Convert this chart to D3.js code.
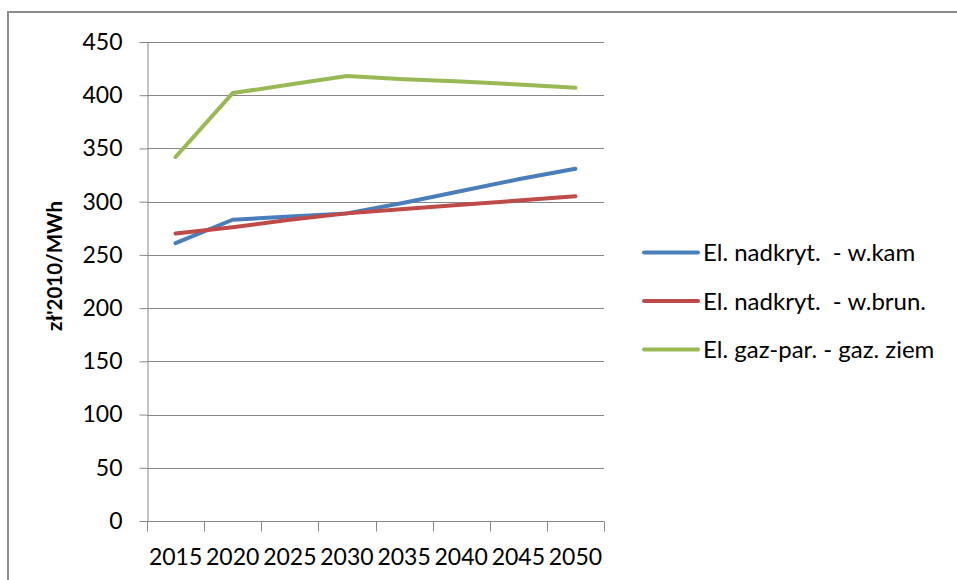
<!DOCTYPE html>
<html>
<head>
<meta charset="utf-8">
<script src="https://cdn.jsdelivr.net/npm/d3@7"></script>
<style>
  html, body { margin: 0; padding: 0; background: #fff; }
  svg { display: block; }
  text { font-family: Lato, "Open Sans", sans-serif; fill: #000; }
</style>
</head>
<body>
<svg id="chart" width="957" height="580"></svg>
<script>
// Years on the category axis
const years = ["2015", "2020", "2025", "2030", "2035", "2040", "2045", "2050"];

// Cost of electricity generation, zł'2010/MWh
const kamienny = [261, 283, 286, 289, 299, 310, 321, 331];
const brunatny = [270, 276, 283, 289, 293, 297, 301, 305];
const gazowy   = [342, 402, 410, 418, 415, 413, 410, 407];

const seriesNames = ["El. nadkryt.  - w.kam", "El. nadkryt.  - w.brun.", "El. gaz-par. - gaz. ziem"];
const seriesColors = ["#4a7ebb", "#be4b48", "#98b954"];
const yTicks = [0, 50, 100, 150, 200, 250, 300, 350, 400, 450];
const yTitle = "zł'2010/MWh";

const series = [kamienny, brunatny, gazowy];

const svg = d3.select("#chart");
const plot = { left: 147, right: 604, top: 42, bottom: 521 };

// Chart frame
svg.append("rect")
  .attr("x", 8).attr("y", 12)
  .attr("width", 980).attr("height", 600)
  .attr("fill", "none")
  .attr("stroke", "#8c8c8c")
  .attr("stroke-width", 2);

const x = d3.scaleBand().domain(years).range([plot.left, plot.right]).padding(0);
const y = d3.scaleLinear().domain([0, 450]).range([plot.bottom, plot.top]);

// Horizontal gridlines
svg.append("g")
  .selectAll("line")
  .data(yTicks.filter(d => d > 0))
  .join("line")
  .attr("x1", plot.left).attr("x2", plot.right)
  .attr("y1", d => Math.round(y(d)) + 0.5).attr("y2", d => Math.round(y(d)) + 0.5)
  .attr("stroke", "#878787").attr("stroke-width", 1);

// Y axis
const yAxis = svg.append("g")
  .attr("transform", `translate(${plot.left + 0.5},0)`)
  .call(d3.axisLeft(y).tickValues(yTicks).tickSize(8).tickPadding(17).tickSizeOuter(0));
yAxis.select(".domain").attr("stroke", "#878787");
yAxis.selectAll(".tick line").attr("stroke", "#878787");
yAxis.selectAll(".tick text")
  .style("font-family", "Lato, sans-serif")
  .style("font-size", "23px")
  .attr("fill", "#000");

// X axis with tick marks on category boundaries
const xAxisG = svg.append("g").attr("transform", `translate(0,${plot.bottom + 0.5})`);
xAxisG.append("line")
  .attr("x1", plot.left).attr("x2", plot.right)
  .attr("stroke", "#878787");
const boundaries = years.map(d => x(d)).concat([x(years[years.length - 1]) + x.bandwidth()]);
xAxisG.selectAll("line.tick")
  .data(boundaries)
  .join("line")
  .attr("class", "tick")
  .attr("x1", d => Math.round(d) + 0.5).attr("x2", d => Math.round(d) + 0.5)
  .attr("y1", 0).attr("y2", 10)
  .attr("stroke", "#878787");
xAxisG.selectAll("text")
  .data(years)
  .join("text")
  .attr("x", d => x(d) + x.bandwidth() / 2)
  .attr("y", 43)
  .attr("text-anchor", "middle")
  .style("font-size", "23px")
  .text(d => d);

// Y axis title
svg.append("text")
  .attr("transform", `translate(62,266) rotate(-90)`)
  .attr("text-anchor", "middle")
  .style("font-size", "20.5px")
  .style("font-weight", "bold")
  .text(yTitle);

// Series lines
const line = d3.line()
  .x((d, i) => x(years[i]) + x.bandwidth() / 2)
  .y(d => y(d));

svg.append("g")
  .selectAll("path")
  .data(series)
  .join("path")
  .attr("d", d => line(d))
  .attr("fill", "none")
  .attr("stroke", (d, i) => seriesColors[i])
  .attr("stroke-width", 4)
  .attr("stroke-linejoin", "round")
  .attr("stroke-linecap", "round");

// Legend
const legend = svg.append("g");
const legendRows = legend.selectAll("g")
  .data(seriesNames)
  .join("g")
  .attr("transform", (d, i) => `translate(644,${252.5 + i * 48.5})`);
legendRows.append("line")
  .attr("x1", 0).attr("x2", 54)
  .attr("stroke", (d, i) => seriesColors[i])
  .attr("stroke-width", 4)
  .attr("stroke-linecap", "round");
legendRows.append("text")
  .attr("x", 59)
  .attr("y", 8.5)
  .style("font-size", "24px")
  .style("white-space", "pre")
  .text(d => d);
</script>
</body>
</html>
